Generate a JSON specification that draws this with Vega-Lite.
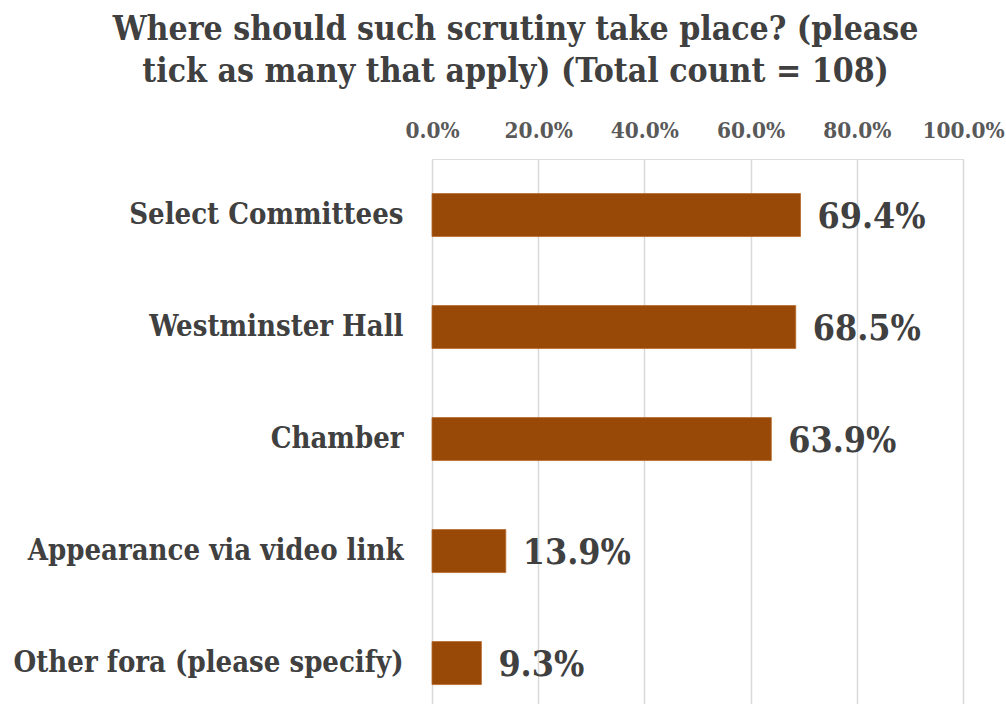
{
  "$schema": "https://vega.github.io/schema/vega-lite/v6.json",
  "width": 531,
  "height": 545,
  "autosize": {"type": "none"},
  "padding": {"left": 432, "top": 159, "right": 43, "bottom": 0},
  "background": "white",
  "title": {
    "text": ["Where should such scrutiny take place? (please", "tick as many that apply) (Total count = 108)"],
    "font": "DejaVu Serif Condensed, DejaVu Serif",
    "fontSize": 33.5,
    "fontWeight": "bold",
    "color": "#404040",
    "anchor": "middle",
    "frame": "bounds",
    "lineHeight": 42,
    "offset": 30,
    "dx": 7
  },
  "data": {
    "values": [
      {"category": "Select Committees", "value": 0.694},
      {"category": "Westminster Hall", "value": 0.685},
      {"category": "Chamber", "value": 0.639},
      {"category": "Appearance via video link", "value": 0.139},
      {"category": "Other fora (please specify)", "value": 0.093}
    ]
  },
  "encoding": {
    "y": {
      "field": "category",
      "type": "nominal",
      "sort": null,
      "scale": {"paddingInner": 0.616, "paddingOuter": 0.241, "align": 0.64},
      "axis": {
        "title": null,
        "domain": false,
        "ticks": false,
        "grid": false,
        "labelPadding": 29,
        "labelFont": "DejaVu Serif Condensed, DejaVu Serif",
        "labelFontSize": 29,
        "labelFontWeight": "bold",
        "labelColor": "#404040",
        "labelLimit": 600
      }
    },
    "x": {
      "field": "value",
      "type": "quantitative",
      "scale": {"domain": [0, 1], "nice": false},
      "axis": {
        "orient": "top",
        "title": null,
        "domain": false,
        "ticks": false,
        "values": [0, 0.2, 0.4, 0.6, 0.8, 1],
        "format": ".1%",
        "grid": true,
        "gridColor": "#d9d9d9",
        "gridWidth": 1.5,
        "labelPadding": 22,
        "labelBaseline": "alphabetic",
        "labelFont": "DejaVu Serif Condensed, DejaVu Serif",
        "labelFontSize": 22.4,
        "labelFontWeight": "bold",
        "labelColor": "#595959",
        "labelFlush": false
      }
    }
  },
  "layer": [
    {"mark": {"type": "bar", "color": "#984807", "stroke": "#b8692a", "strokeWidth": 0.8}},
    {
      "mark": {
        "type": "text",
        "align": "left",
        "baseline": "middle",
        "dx": 17,
        "dy": 2,
        "font": "DejaVu Serif Condensed, DejaVu Serif",
        "fontSize": 35.5,
        "fontWeight": "bold",
        "color": "#404040"
      },
      "encoding": {"text": {"field": "value", "type": "quantitative", "format": ".1%"}}
    }
  ]
}
